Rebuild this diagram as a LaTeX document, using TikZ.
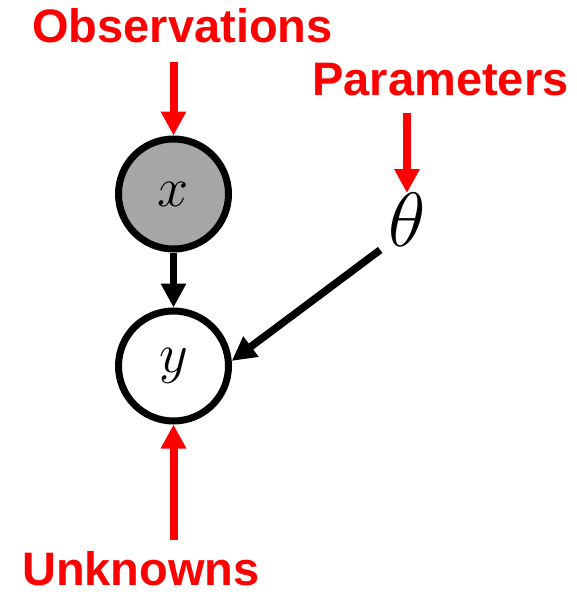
\RequirePackage{fix-cm}
\documentclass[tikz,border=0pt]{standalone}
\usepackage{fontspec}
\setmainfont{Liberation Sans}
\usetikzlibrary{positioning,arrows.meta}
\definecolor{anno}{HTML}{FF0000}
\definecolor{obsfill}{HTML}{A6A6A6}
\tikzset{
  var/.style={circle, draw=black, line width=7pt, minimum size=110pt, inner sep=0pt, font=\fontsize{56}{60}\selectfont},
  obsvar/.style={var, fill=obsfill},
  param/.style={inner sep=0pt, font=\fontsize{77}{80}\selectfont},
  tag/.style={text=anno, font=\fontsize{47}{50}\selectfont\bfseries, inner sep=0pt, anchor=base},
  dep/.style={draw=black, line width=7.5pt, -{Triangle[width=24pt,length=24pt]}},
  pointer/.style={draw=anno, line width=8pt, -{Triangle[width=24pt,length=24pt]}},
}

\begin{document}
\begin{tikzpicture}[x=1pt,y=-1pt]
\useasboundingbox (0,0) rectangle (576,594);
\node[obsvar] (xv) at (173.5,194) {$x$};
\node[var] (yv) [below=55pt of xv] {$y$};
\node[param] (th) at (407,220) {$\theta$};
% labels
\node[tag] (obs) at (182.5,43) {Observations};
\node[tag] (par) at (440.5,95) {Parameters};
\node[tag] (unk) at (141,585) {Unknowns};
\coordinate (obsend) at (173.5,62);
\coordinate (parend) at (407,113);
\coordinate (unkend) at (173.5,540);
% dependencies
\draw[dep] (xv) -- (yv);
\draw[dep] ([shift={(-8,3)}]th.south west) -- (yv.5);
% what each one is
\draw[pointer] (obsend) -- (xv);
\draw[pointer] (parend) -- (th);
\draw[pointer] (unkend) -- (yv);
\end{tikzpicture}
\end{document}
